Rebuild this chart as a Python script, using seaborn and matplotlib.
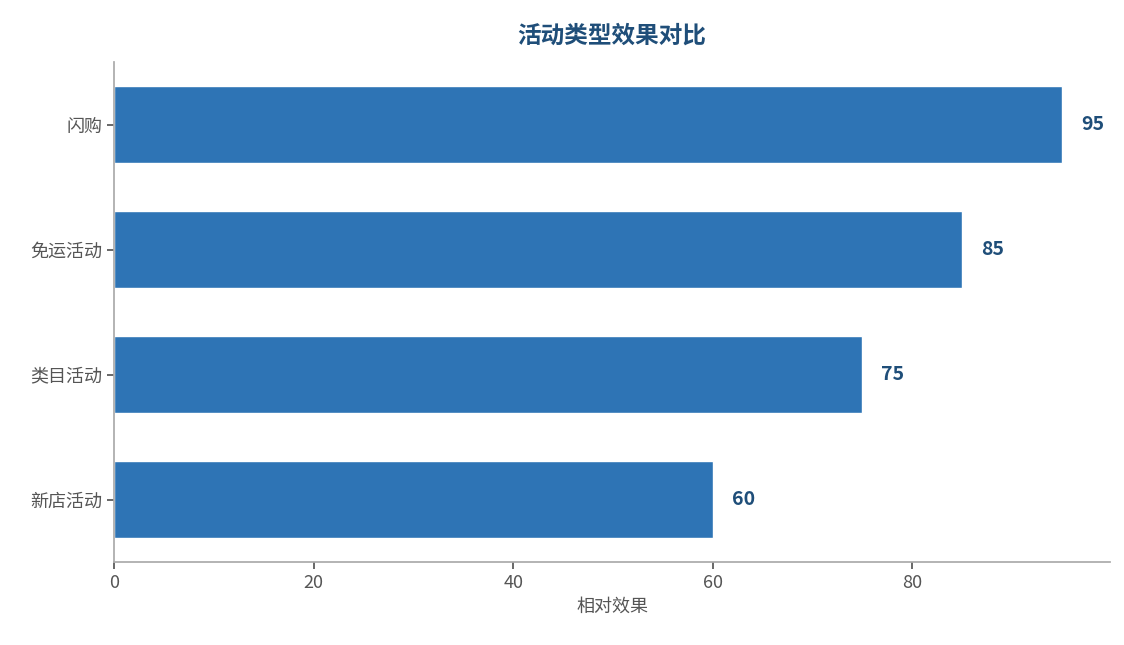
import matplotlib
matplotlib.use("Agg")
import matplotlib.pyplot as plt
import seaborn as sns
import pandas as pd

categories = ["闪购", "免运活动", "类目活动", "新店活动"]
values = [95, 85, 75, 60]

sns.set_theme(style="white")
plt.rcParams['font.family'] = ['Noto Sans CJK SC', 'DejaVu Sans']

df = pd.DataFrame({"cat": categories, "val": values})
fig = plt.figure(figsize=(11.24, 6.45), dpi=100)
ax = fig.add_axes([114/1124, 1-562/645, (1110-114)/1124, 500/645])
sns.barplot(data=df, x="val", y="cat", color="#2E74B5", saturation=1, width=0.62, ax=ax, orient="h")
ax.set_xlim(0, 99.8)
ax.set_ylim(3.5, -0.5)
for i, v in enumerate(values):
    ax.text(v + 1.9, i, f"{v}", va="center", ha="left", fontsize=14, fontweight="bold", color="#1F4E79")
ax.set_title("活动类型效果对比", fontsize=17, fontweight="bold", color="#1F4E79", pad=14)
ax.set_xlabel("相对效果", fontsize=13, color="#555555")
ax.set_ylabel("")
ax.set_xticks([0, 20, 40, 60, 80])
ax.tick_params(axis="both", labelsize=13, colors="#555555", length=5, left=True, bottom=True)
for s in ["top", "right"]:
    ax.spines[s].set_visible(False)
for s in ["left", "bottom"]:
    ax.spines[s].set_color("#AAAAAA")
fig.savefig("out.png", dpi=100)
